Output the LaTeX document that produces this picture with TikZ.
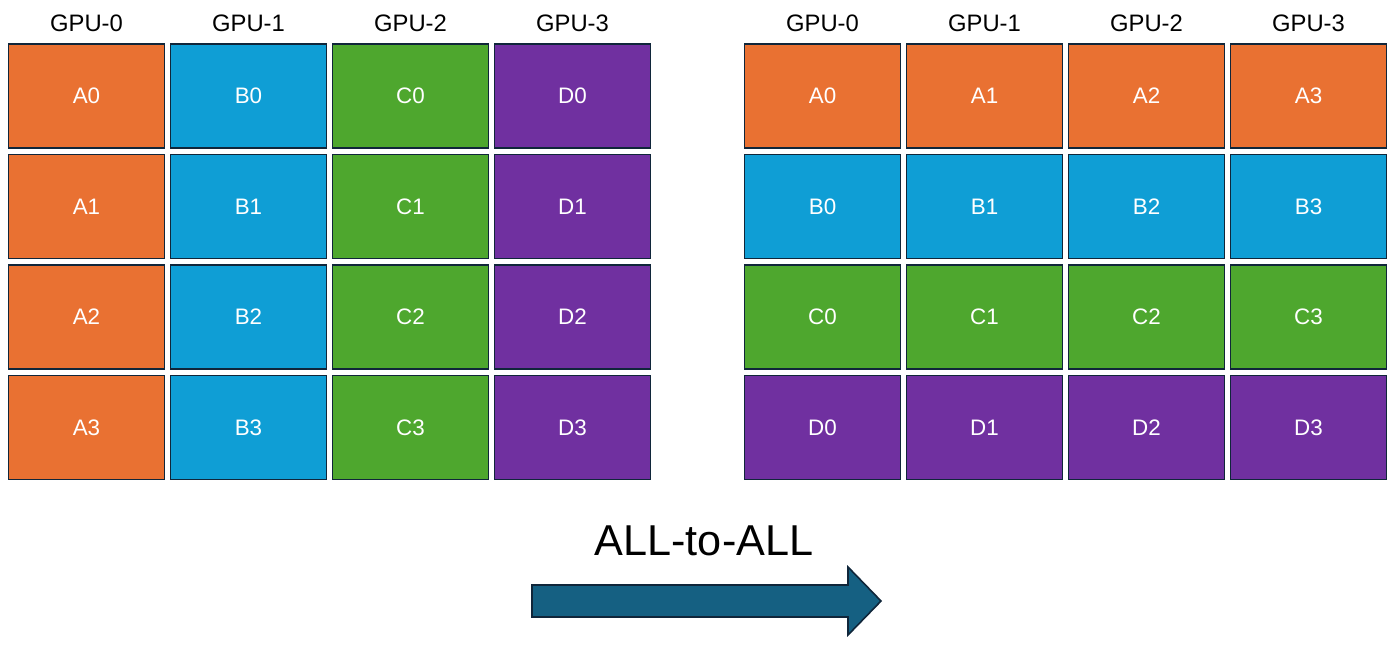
\documentclass[tikz,border=0pt]{standalone}
\usepackage{fontspec}
\setmainfont{Liberation Sans}
\definecolor{cellorange}{HTML}{E97132}
\definecolor{cellblue}{HTML}{0F9ED5}
\definecolor{cellgreen}{HTML}{4EA72E}
\definecolor{cellpurple}{HTML}{7030A0}
\definecolor{cellline}{HTML}{10263A}
\definecolor{arrowfill}{HTML}{156082}
\tikzset{
  cell/.style={rectangle,draw=cellline,line width=0.8pt,minimum width=78pt,minimum height=52pt,inner sep=0pt,text=white,font=\fontsize{11.2}{13}\selectfont},
  gpu/.style={inner sep=0pt,font=\fontsize{11.9}{14}\selectfont},
}
\begin{document}
\begin{tikzpicture}[x=0.5pt,y=-0.5pt]
    \useasboundingbox (0,0) rectangle (1400,649);
    % headers
    \node (hl0) at (86.5,23.5) [gpu] {GPU-0};
    \node (hl1) at (248.5,23.5) [gpu] {GPU-1};
    \node (hl2) at (410.5,23.5) [gpu] {GPU-2};
    \node (hl3) at (572.5,23.5) [gpu] {GPU-3};
    \node (hr0) at (822.5,23.5) [gpu] {GPU-0};
    \node (hr1) at (984.5,23.5) [gpu] {GPU-1};
    \node (hr2) at (1146.5,23.5) [gpu] {GPU-2};
    \node (hr3) at (1308.5,23.5) [gpu] {GPU-3};

    % left grid
    \node (la0) at (86.5,96) [cell,fill=cellorange] {A0};
    \node (la1) at (86.5,206.5) [cell,fill=cellorange] {A1};
    \node (la2) at (86.5,317) [cell,fill=cellorange] {A2};
    \node (la3) at (86.5,427.5) [cell,fill=cellorange] {A3};
    \node (lb0) at (248.5,96) [cell,fill=cellblue] {B0};
    \node (lb1) at (248.5,206.5) [cell,fill=cellblue] {B1};
    \node (lb2) at (248.5,317) [cell,fill=cellblue] {B2};
    \node (lb3) at (248.5,427.5) [cell,fill=cellblue] {B3};
    \node (lc0) at (410.5,96) [cell,fill=cellgreen] {C0};
    \node (lc1) at (410.5,206.5) [cell,fill=cellgreen] {C1};
    \node (lc2) at (410.5,317) [cell,fill=cellgreen] {C2};
    \node (lc3) at (410.5,427.5) [cell,fill=cellgreen] {C3};
    \node (ld0) at (572.5,96) [cell,fill=cellpurple] {D0};
    \node (ld1) at (572.5,206.5) [cell,fill=cellpurple] {D1};
    \node (ld2) at (572.5,317) [cell,fill=cellpurple] {D2};
    \node (ld3) at (572.5,427.5) [cell,fill=cellpurple] {D3};

    % right grid
    \node (ra0) at (822.5,96) [cell,fill=cellorange] {A0};
    \node (ra1) at (984.5,96) [cell,fill=cellorange] {A1};
    \node (ra2) at (1146.5,96) [cell,fill=cellorange] {A2};
    \node (ra3) at (1308.5,96) [cell,fill=cellorange] {A3};
    \node (rb0) at (822.5,206.5) [cell,fill=cellblue] {B0};
    \node (rb1) at (984.5,206.5) [cell,fill=cellblue] {B1};
    \node (rb2) at (1146.5,206.5) [cell,fill=cellblue] {B2};
    \node (rb3) at (1308.5,206.5) [cell,fill=cellblue] {B3};
    \node (rc0) at (822.5,317) [cell,fill=cellgreen] {C0};
    \node (rc1) at (984.5,317) [cell,fill=cellgreen] {C1};
    \node (rc2) at (1146.5,317) [cell,fill=cellgreen] {C2};
    \node (rc3) at (1308.5,317) [cell,fill=cellgreen] {C3};
    \node (rd0) at (822.5,427.5) [cell,fill=cellpurple] {D0};
    \node (rd1) at (984.5,427.5) [cell,fill=cellpurple] {D1};
    \node (rd2) at (1146.5,427.5) [cell,fill=cellpurple] {D2};
    \node (rd3) at (1308.5,427.5) [cell,fill=cellpurple] {D3};

    % title and arrow
    \node (title) at (704,540.5) [inner sep=0pt,font=\fontsize{21.6}{26}\selectfont] {ALL-to-ALL};
    \draw[draw=cellline,line width=0.8pt,fill=arrowfill] (532,585) -- (848,585) -- (848,567) -- (881,601) -- (848,635) -- (848,617) -- (532,617) -- cycle;

\end{tikzpicture}
\end{document}
